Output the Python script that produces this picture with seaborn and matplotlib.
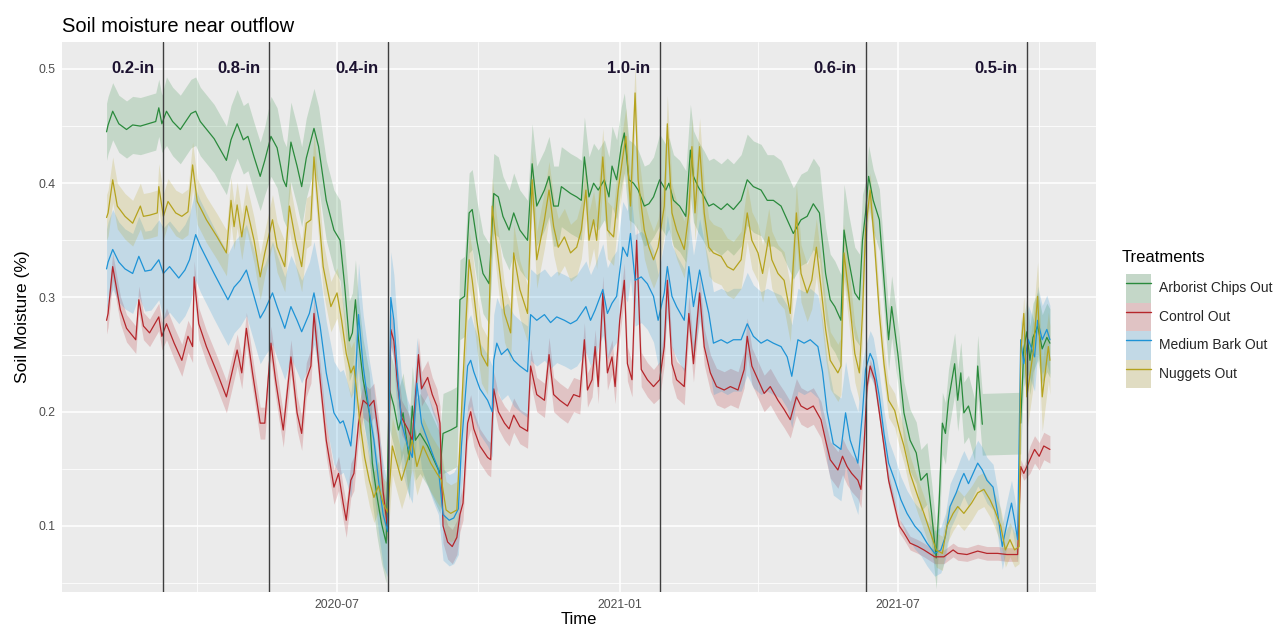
import numpy as np
import pandas as pd
import matplotlib
matplotlib.use("Agg")
import matplotlib.pyplot as plt
import matplotlib.dates as mdates
from matplotlib.lines import Line2D
from matplotlib.patches import Patch
from matplotlib.legend_handler import HandlerTuple
import seaborn as sns

# Logger records: (day since logger start, mean volumetric moisture)
LOGGER_START = pd.Timestamp("2020-02-01")
nan = float("nan")

arborist = [
    (1, 0.445), (2, 0.451), (5, 0.463), (9, 0.452), (14, 0.447), (18, 0.451), (23, 0.450),
    (28, 0.452), (33, 0.454), (35, 0.466), (37, 0.452), (40, 0.463), (44, 0.454), (49, 0.447),
    (53, 0.455), (56, 0.461), (59, 0.463), (62, 0.454), (71, 0.439), (79, 0.420), (82, 0.438),
    (86, 0.452), (90, 0.438), (93, 0.441), (97, 0.423), (101, 0.406), (104, 0.420), (108, 0.441),
    (112, 0.431), (116, 0.403), (118, 0.397), (121, 0.436), (125, 0.415), (128, 0.397),
    (131, 0.422), (136, 0.448), (139, 0.432), (144, 0.385), (149, 0.359), (153, 0.350),
    (156, 0.310), (159, 0.262), (161, 0.269), (163, 0.298), (165, 0.263), (168, 0.228),
    (172, 0.199), (174, 0.155), (177, 0.126), (180, 0.102), (183, 0.085), (185, 0.220),
    (188, 0.205), (191, 0.184), (194, 0.199), (198, 0.158), (200, 0.205), (202, 0.175),
    (205, 0.181), (210, 0.170), (214, 0.158), (218, 0.146), (220, 0.181), (225, 0.184),
    (229, 0.187), (231, 0.298), (234, 0.301), (237, 0.374), (239, 0.377), (242, 0.350),
    (246, 0.321), (250, 0.312), (253, 0.391), (256, 0.388), (259, 0.371), (263, 0.359),
    (266, 0.374), (270, 0.359), (275, 0.350), (278, 0.417), (281, 0.380), (286, 0.394),
    (289, 0.406), (292, 0.380), (295, 0.380), (297, 0.397), (303, 0.391), (307, 0.388),
    (310, 0.385), (312, 0.423), (315, 0.388), (318, 0.400), (321, 0.394), (325, 0.403),
    (328, 0.388), (330, 0.415), (333, 0.403), (336, 0.432), (338, 0.444), (341, 0.403),
    (344, 0.400), (347, 0.394), (351, 0.380), (354, 0.382), (357, 0.388), (361, 0.403),
    (365, 0.394), (367, 0.400), (370, 0.385), (374, 0.380), (378, 0.371), (381, 0.429),
    (383, 0.406), (386, 0.397), (390, 0.388), (393, 0.380), (396, 0.382), (401, 0.377),
    (405, 0.382), (409, 0.377), (414, 0.385), (418, 0.403), (422, 0.397), (427, 0.394),
    (431, 0.385), (435, 0.385), (440, 0.380), (444, 0.368), (448, 0.356), (453, 0.368),
    (457, 0.371), (461, 0.382), (465, 0.374), (469, 0.321), (472, 0.298), (475, 0.292),
    (479, 0.280), (481, 0.359), (484, 0.333), (488, 0.304), (491, 0.298), (493, 0.350),
    (495, 0.374), (497, 0.406), (500, 0.385), (504, 0.368), (507, 0.315), (510, 0.263),
    (512, 0.292), (516, 0.251), (520, 0.199), (524, 0.175), (528, 0.164), (531, 0.140),
    (535, 0.146), (538, 0.111), (541, 0.072), (543, 0.123), (545, 0.190), (547, 0.181),
    (549, 0.210), (553, 0.242), (555, 0.210), (557, 0.234), (559, 0.199), (562, 0.205),
    (566, 0.184), (568, 0.240), (571, 0.189), (584, nan), (596, 0.190), (598, 0.255),
    (600, 0.270), (602, 0.245), (604, 0.265), (607, 0.275), (610, 0.255), (613, 0.265),
    (615, 0.260),
]

control = [
    (1, 0.280), (2, 0.286), (5, 0.327), (8, 0.304), (10, 0.289), (14, 0.273), (20, 0.263),
    (22, 0.298), (25, 0.275), (29, 0.269), (35, 0.283), (37, 0.266), (40, 0.277), (45, 0.260),
    (50, 0.245), (54, 0.266), (57, 0.257), (58, 0.318), (61, 0.277), (66, 0.257), (73, 0.234),
    (79, 0.213), (84, 0.242), (86, 0.254), (89, 0.234), (92, 0.273), (96, 0.234), (101, 0.190),
    (104, 0.190), (108, 0.260), (111, 0.228), (116, 0.184), (121, 0.248), (125, 0.199),
    (128, 0.181), (131, 0.228), (134, 0.240), (136, 0.286), (140, 0.228), (144, 0.175),
    (149, 0.134), (152, 0.146), (155, 0.120), (157, 0.105), (160, 0.140), (162, 0.146),
    (165, 0.190), (168, 0.210), (172, 0.205), (175, 0.210), (178, 0.180), (181, 0.130),
    (184, 0.097), (186, 0.272), (188, 0.262), (190, 0.230), (193, 0.195), (197, 0.185),
    (200, 0.175), (204, 0.250), (206, 0.220), (210, 0.230), (213, 0.215), (216, 0.205),
    (218, 0.190), (220, 0.100), (223, 0.086), (226, 0.082), (229, 0.090), (231, 0.110),
    (233, 0.120), (236, 0.190), (238, 0.200), (240, 0.185), (244, 0.170), (249, 0.160),
    (251, 0.158), (253, 0.220), (256, 0.200), (260, 0.190), (263, 0.185), (266, 0.197),
    (270, 0.187), (275, 0.183), (277, 0.240), (281, 0.215), (286, 0.210), (289, 0.250),
    (292, 0.215), (296, 0.210), (301, 0.205), (305, 0.215), (309, 0.213), (312, 0.263),
    (314, 0.219), (317, 0.228), (319, 0.257), (321, 0.222), (324, 0.304), (327, 0.234),
    (330, 0.248), (332, 0.222), (335, 0.280), (338, 0.315), (340, 0.242), (343, 0.228),
    (346, 0.350), (349, 0.237), (353, 0.228), (357, 0.222), (361, 0.228), (364, 0.257),
    (366, 0.315), (369, 0.242), (372, 0.228), (377, 0.222), (380, 0.286), (383, 0.242),
    (387, 0.304), (390, 0.257), (394, 0.234), (398, 0.222), (403, 0.219), (407, 0.222),
    (412, 0.219), (416, 0.237), (418, 0.266), (421, 0.240), (425, 0.228), (429, 0.216),
    (433, 0.222), (438, 0.210), (442, 0.202), (446, 0.193), (450, 0.213), (453, 0.205),
    (457, 0.202), (461, 0.205), (466, 0.193), (469, 0.175), (472, 0.158), (477, 0.149),
    (480, 0.161), (483, 0.152), (486, 0.146), (490, 0.140), (492, 0.132), (494, 0.170),
    (496, 0.222), (498, 0.240), (501, 0.228), (504, 0.199), (507, 0.170), (510, 0.140),
    (514, 0.117), (517, 0.100), (520, 0.094), (524, 0.085), (529, 0.082), (533, 0.079),
    (540, 0.073), (546, 0.073), (552, 0.079), (555, 0.076), (561, 0.075), (568, 0.078),
    (574, 0.076), (581, 0.076), (587, 0.075), (594, 0.075), (596, 0.152), (598, 0.146),
    (602, 0.158), (605, 0.167), (608, 0.161), (611, 0.170), (615, 0.167),
]

medium_bark = [
    (1, 0.325), (2, 0.331), (5, 0.342), (9, 0.331), (13, 0.325), (18, 0.321), (22, 0.336),
    (26, 0.323), (30, 0.324), (35, 0.333), (38, 0.321), (42, 0.327), (48, 0.317), (52, 0.324),
    (55, 0.333), (59, 0.355), (62, 0.345), (71, 0.321), (80, 0.298), (84, 0.309), (88, 0.315),
    (92, 0.324), (97, 0.301), (101, 0.282), (104, 0.289), (109, 0.304), (112, 0.292),
    (117, 0.273), (121, 0.292), (125, 0.280), (128, 0.270), (133, 0.286), (136, 0.304),
    (140, 0.275), (144, 0.234), (149, 0.199), (153, 0.190), (155, 0.192), (157, 0.184),
    (160, 0.170), (162, 0.199), (165, 0.285), (168, 0.240), (172, 0.200), (175, 0.175),
    (178, 0.140), (181, 0.110), (184, 0.095), (186, 0.300), (188, 0.280), (190, 0.240),
    (193, 0.190), (197, 0.170), (200, 0.160), (203, 0.225), (206, 0.190), (210, 0.175),
    (214, 0.160), (217, 0.150), (220, 0.110), (224, 0.105), (227, 0.107), (230, 0.115),
    (232, 0.170), (236, 0.240), (238, 0.245), (240, 0.235), (244, 0.220), (249, 0.210),
    (252, 0.200), (253, 0.245), (255, 0.260), (258, 0.250), (262, 0.255), (266, 0.245),
    (270, 0.240), (275, 0.235), (277, 0.285), (281, 0.280), (286, 0.285), (290, 0.278),
    (294, 0.283), (299, 0.280), (303, 0.277), (307, 0.280), (310, 0.286), (313, 0.292),
    (316, 0.280), (319, 0.289), (324, 0.307), (327, 0.286), (330, 0.295), (333, 0.301),
    (337, 0.344), (340, 0.336), (342, 0.356), (345, 0.315), (349, 0.318), (353, 0.312),
    (357, 0.301), (360, 0.280), (364, 0.304), (366, 0.327), (369, 0.301), (372, 0.292),
    (377, 0.280), (380, 0.327), (383, 0.292), (387, 0.324), (390, 0.304), (393, 0.286),
    (396, 0.260), (401, 0.263), (405, 0.260), (409, 0.263), (414, 0.263), (418, 0.277),
    (422, 0.266), (427, 0.260), (431, 0.263), (435, 0.260), (440, 0.257), (444, 0.248),
    (447, 0.231), (451, 0.263), (455, 0.260), (459, 0.263), (464, 0.257), (467, 0.235),
    (470, 0.200), (474, 0.172), (479, 0.167), (482, 0.199), (485, 0.175), (490, 0.155),
    (493, 0.199), (495, 0.237), (498, 0.251), (500, 0.245), (504, 0.213), (507, 0.181),
    (510, 0.155), (514, 0.140), (518, 0.123), (522, 0.111), (527, 0.100), (531, 0.094),
    (535, 0.085), (540, 0.076), (544, 0.079), (547, 0.091), (550, 0.117), (554, 0.129),
    (557, 0.140), (559, 0.146), (562, 0.137), (566, 0.149), (568, 0.155), (571, 0.149),
    (574, 0.140), (578, 0.134), (581, 0.111), (584, 0.082), (587, 0.102), (590, 0.120),
    (592, 0.105), (594, 0.088), (596, 0.263), (598, 0.242), (601, 0.263), (605, 0.248),
    (607, 0.280), (610, 0.263), (613, 0.272), (615, 0.263),
]

nuggets = [
    (1, 0.370), (2, 0.374), (5, 0.403), (8, 0.380), (13, 0.371), (18, 0.365), (23, 0.380),
    (25, 0.371), (29, 0.372), (34, 0.374), (35, 0.397), (38, 0.371), (41, 0.384), (46, 0.374),
    (50, 0.371), (54, 0.375), (57, 0.416), (60, 0.384), (66, 0.368), (73, 0.353), (79, 0.339),
    (82, 0.385), (84, 0.362), (86, 0.381), (89, 0.353), (92, 0.380), (97, 0.350), (101, 0.318),
    (104, 0.339), (109, 0.368), (112, 0.344), (117, 0.327), (120, 0.380), (124, 0.350),
    (128, 0.327), (131, 0.365), (134, 0.368), (136, 0.423), (139, 0.374), (142, 0.327),
    (147, 0.292), (151, 0.304), (154, 0.280), (157, 0.251), (160, 0.234), (162, 0.240),
    (166, 0.190), (169, 0.160), (172, 0.140), (175, 0.125), (178, 0.135), (181, 0.120),
    (184, 0.112), (187, 0.170), (190, 0.155), (193, 0.140), (197, 0.158), (200, 0.175),
    (203, 0.152), (207, 0.170), (212, 0.155), (216, 0.146), (219, 0.140), (222, 0.114),
    (225, 0.111), (229, 0.114), (231, 0.170), (233, 0.228), (237, 0.333), (239, 0.315),
    (242, 0.280), (245, 0.250), (249, 0.240), (252, 0.380), (255, 0.344), (260, 0.286),
    (264, 0.269), (266, 0.339), (270, 0.307), (275, 0.286), (278, 0.403), (281, 0.333),
    (286, 0.368), (289, 0.394), (292, 0.362), (295, 0.344), (299, 0.353), (303, 0.339),
    (307, 0.344), (310, 0.359), (313, 0.394), (315, 0.350), (318, 0.368), (320, 0.350),
    (324, 0.423), (327, 0.359), (331, 0.353), (334, 0.394), (337, 0.423), (339, 0.441),
    (342, 0.380), (345, 0.479), (347, 0.403), (351, 0.359), (354, 0.344), (357, 0.333),
    (360, 0.344), (364, 0.380), (366, 0.452), (369, 0.374), (372, 0.359), (377, 0.342),
    (380, 0.374), (382, 0.432), (384, 0.374), (387, 0.432), (390, 0.374), (393, 0.344),
    (396, 0.339), (401, 0.336), (405, 0.327), (409, 0.324), (414, 0.333), (418, 0.374),
    (421, 0.350), (425, 0.339), (428, 0.321), (432, 0.353), (434, 0.333), (438, 0.321),
    (442, 0.315), (446, 0.286), (450, 0.374), (453, 0.321), (457, 0.304), (460, 0.315),
    (463, 0.344), (466, 0.309), (469, 0.272), (472, 0.245), (477, 0.234), (479, 0.240),
    (481, 0.339), (484, 0.304), (488, 0.251), (491, 0.234), (493, 0.286), (495, 0.359),
    (498, 0.394), (501, 0.344), (504, 0.286), (507, 0.242), (510, 0.210), (514, 0.201),
    (517, 0.184), (520, 0.170), (524, 0.146), (529, 0.126), (533, 0.111), (538, 0.091),
    (541, 0.079), (545, 0.076), (548, 0.100), (552, 0.111), (555, 0.117), (559, 0.111),
    (564, 0.120), (568, 0.129), (572, 0.132), (576, 0.123), (579, 0.114), (583, 0.100),
    (586, 0.079), (589, 0.088), (592, 0.079), (595, 0.082), (596, 0.251), (598, 0.286),
    (600, 0.213), (604, 0.251), (607, 0.301), (610, 0.213), (614, 0.257), (615, 0.245),
]

treatments = ["Arborist Chips Out", "Control Out", "Medium Bark Out", "Nuggets Out"]
series = [arborist, control, medium_bark, nuggets]
line_colors = ["#2a8a3c", "#b5262b", "#1e93d6", "#b5a31e"]

# Rain events marked on the record
event_dates = ["2020-03-10", "2020-05-18", "2020-08-03", "2021-01-27", "2021-06-10", "2021-09-23"]
event_labels = ["0.2-in", "0.8-in", "0.4-in", "1.0-in", "0.6-in", "0.5-in"]

# Half-width of the confidence band for each period between rain events
band_halfwidth = {
    "Arborist Chips Out": [0.025, 0.030, 0.035, 0.035, 0.040, 0.027, 0.030],
    "Control Out": [0.012, 0.014, 0.015, 0.015, 0.016, 0.006, 0.012],
    "Medium Bark Out": [0.035, 0.040, 0.045, 0.040, 0.045, 0.020, 0.030],
    "Nuggets Out": [0.020, 0.020, 0.022, 0.025, 0.025, 0.015, 0.030],
}

# ---- assemble a long table -------------------------------------------------
frames = []
for name, rec in zip(treatments, series):
    d = pd.DataFrame(rec, columns=["day", "moisture"])
    d["treatment"] = name
    d["run"] = d["moisture"].isna().cumsum()
    d["date"] = LOGGER_START + pd.to_timedelta(d["day"], unit="D")
    frames.append(d)
df = pd.concat(frames, ignore_index=True)

event_ts = pd.to_datetime(event_dates)
event_days = np.array([(t - LOGGER_START).days for t in event_ts])

# ---- figure ----------------------------------------------------------------
sns.set_theme(style="darkgrid")
plt.rcParams["font.family"] = ["Liberation Sans", "DejaVu Sans"]

fig = plt.figure(figsize=(12.82, 6.38), dpi=100)
ax = fig.add_axes([62 / 1282, 1 - 592 / 638, (1096 - 62) / 1282, (592 - 42) / 638])
ax.set_facecolor("#EBEBEB")

# confidence bands
for name, color in zip(treatments, line_colors):
    d = df[(df["treatment"] == name) & df["moisture"].notna()]
    seg = np.searchsorted(event_days, d["day"].to_numpy(), side="right")
    hw = np.asarray(band_halfwidth[name])[seg]
    ax.fill_between(d["date"], d["moisture"] - hw, d["moisture"] + hw,
                    color=color, alpha=0.2, linewidth=0, zorder=2)

# mean moisture lines
sns.lineplot(data=df.dropna(subset=["moisture"]), x="date", y="moisture",
             hue="treatment", hue_order=treatments, palette=line_colors,
             units="run", estimator=None, linewidth=0.9, legend=False,
             ax=ax, zorder=3)

# rain event markers
for t, lab in zip(event_ts, event_labels):
    ax.axvline(t, color="#3e3e3e", linewidth=1.0, zorder=4)
    ax.text(t - pd.Timedelta(days=20), 0.5, lab, ha="center", va="center",
            fontsize=12, fontweight="bold", color="#1c1230", zorder=5)

# axes styling
ax.set_xlim(pd.Timestamp("2020-01-04"), pd.Timestamp("2021-11-07"))
ax.set_ylim(0.0422, 0.5236)
ax.xaxis.set_major_locator(mdates.MonthLocator(bymonth=[1, 7]))
ax.xaxis.set_minor_locator(mdates.MonthLocator(bymonth=[4, 10]))
ax.xaxis.set_major_formatter(mdates.DateFormatter("%Y-%m"))
ax.set_yticks([0.1, 0.2, 0.3, 0.4, 0.5])
ax.set_yticks([0.05, 0.15, 0.25, 0.35, 0.45], minor=True)
ax.set_yticklabels(["0.1", "0.2", "0.3", "0.4", "0.5"])
ax.grid(which="major", color="white", linewidth=1.1)
ax.grid(which="minor", color="white", linewidth=0.55)
for s in ax.spines.values():
    s.set_visible(False)
ax.tick_params(which="major", length=3, width=0.8, color="#333333",
               labelsize=8.8, labelcolor="#4d4d4d", pad=2)
ax.tick_params(which="minor", length=0)
ax.set_xlabel("Time", fontsize=12, color="black", labelpad=1)
ax.set_ylabel("Soil Moisture (%)", fontsize=12.5, color="black", labelpad=6)
ax.set_title("Soil moisture near outflow", loc="left", fontsize=14.5,
             color="black", pad=7)

# legend: grey key, tinted band and line, as in the plot
handles = [(Patch(facecolor="#EBEBEB", edgecolor="none"),
            Patch(facecolor=c, alpha=0.2, edgecolor="none"),
            Line2D([], [], color=c, linewidth=1.0)) for c in line_colors]
leg = fig.legend(handles, treatments, handler_map={tuple: HandlerTuple(ndivide=1)},
                 loc="center left", bbox_to_anchor=(1120 / 1282, 1 - 331 / 638),
                 frameon=False, fontsize=10,
                 handlelength=1.8, handleheight=2.78,
                 labelspacing=0.0, handletextpad=0.6, borderaxespad=0.0)
fig.text(1122 / 1282, 1 - 258 / 638, "Treatments", fontsize=12,
         ha="left", va="center", color="black")

fig.savefig("out.png", dpi=100, facecolor="white")
